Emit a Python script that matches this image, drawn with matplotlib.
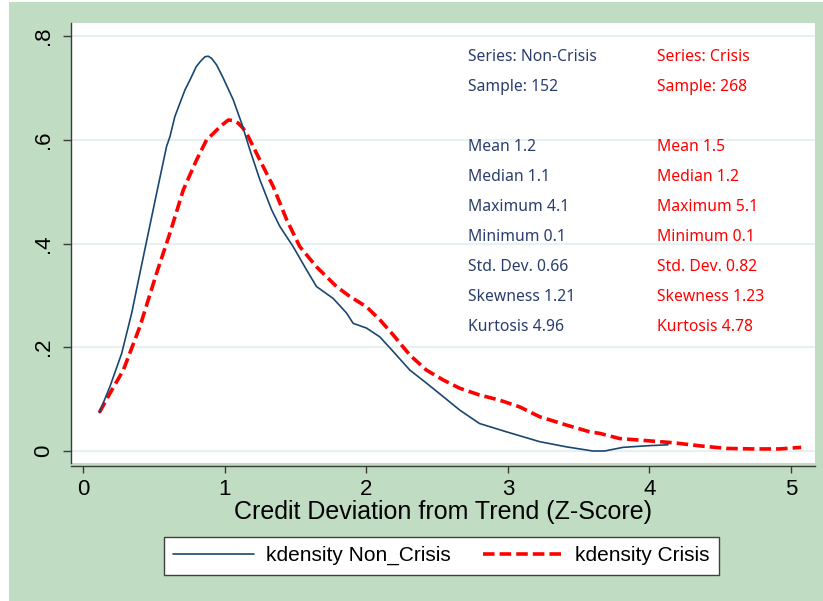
import matplotlib
matplotlib.use("Agg")
import matplotlib.pyplot as plt
from matplotlib.patches import Rectangle

# ---- data ----
noncrisis_x = [0.115, 0.19, 0.273, 0.344, 0.402, 0.461, 0.52, 0.59, 0.614, 0.649, 0.72, 0.755,
               0.80, 0.826, 0.861, 0.884, 0.908, 0.944, 0.99, 1.061, 1.12, 1.178, 1.249, 1.332,
               1.39, 1.484, 1.579, 1.649, 1.767, 1.861, 1.908, 2.002, 2.096, 2.19, 2.308, 2.425,
               2.543, 2.66, 2.80, 2.99, 3.225, 3.414, 3.507, 3.60, 3.684, 3.813, 3.978, 4.131]
noncrisis_y = [0.074, 0.124, 0.188, 0.266, 0.343, 0.420, 0.497, 0.587, 0.606, 0.645, 0.696, 0.715,
               0.741, 0.750, 0.760, 0.761, 0.757, 0.744, 0.719, 0.677, 0.632, 0.581, 0.523, 0.465,
               0.433, 0.394, 0.349, 0.317, 0.294, 0.266, 0.246, 0.237, 0.220, 0.192, 0.156, 0.131,
               0.105, 0.079, 0.053, 0.037, 0.018, 0.008, 0.004, 0.000, 0.000, 0.007, 0.010, 0.012]

crisis_x = [0.115, 0.19, 0.285, 0.402, 0.52, 0.614, 0.708, 0.802, 0.873, 0.92, 0.967, 1.026,
            1.061, 1.096, 1.131, 1.167, 1.249, 1.343, 1.438, 1.531, 1.649, 1.79, 1.884, 2.002,
            2.096, 2.19, 2.308, 2.425, 2.543, 2.66, 2.80, 2.943, 3.084, 3.225, 3.414, 3.578,
            3.649, 3.79, 3.978, 4.166, 4.354, 4.543, 4.731, 4.919, 5.072]
crisis_y = [0.074, 0.111, 0.156, 0.240, 0.343, 0.420, 0.503, 0.561, 0.600, 0.612, 0.625, 0.638,
            0.637, 0.632, 0.622, 0.606, 0.561, 0.510, 0.446, 0.394, 0.355, 0.317, 0.298, 0.278,
            0.253, 0.224, 0.185, 0.156, 0.137, 0.121, 0.108, 0.098, 0.085, 0.066, 0.050, 0.037,
            0.034, 0.024, 0.020, 0.016, 0.010, 0.005, 0.004, 0.004, 0.007]

x_ticks = [0, 1, 2, 3, 4, 5]
x_tick_labels = ["0", "1", "2", "3", "4", "5"]
y_ticks = [0, 0.2, 0.4, 0.6, 0.8]
y_tick_labels = ["0", ".2", ".4", ".6", ".8"]

stats_noncrisis = ["Series: Non-Crisis", "Sample: 152", "Mean 1.2", "Median 1.1", "Maximum 4.1",
                   "Minimum 0.1", "Std. Dev. 0.66", "Skewness 1.21", "Kurtosis 4.96"]
stats_crisis = ["Series: Crisis", "Sample: 268", "Mean 1.5", "Median 1.2", "Maximum 5.1",
                "Minimum 0.1", "Std. Dev. 0.82", "Skewness 1.23", "Kurtosis 4.78"]

x_label = "Credit Deviation from Trend (Z-Score)"
legend_labels = ["kdensity Non_Crisis", "kdensity Crisis"]

# ---- style ----
W, H = 823, 601
GREEN = "#c0ddc3"
NAVY = "#1a476f"
TXT_NAVY = "#2b3d6d"
RED = "#ff0000"
SANS = ["Liberation Sans", "DejaVu Sans"]

fig = plt.figure(figsize=(W / 100, H / 100), dpi=100)
fig.patch.set_facecolor("white")
fig.add_artist(Rectangle((9 / W, 0), 1 - 9 / W, (H - 2) / H, transform=fig.transFigure,
                         facecolor=GREEN, edgecolor="none", zorder=-10))

left, right, top, bottom = 71, 815, 23, 463
ax = fig.add_axes([left / W, 1 - bottom / H, (right - left) / W, (bottom - top) / H])
ax.set_facecolor("white")

# scales: x tick 0 at 83 px, 5 at 791 px ; y 0 at 451 px, .8 at 36 px
xpx0, xppu = 83.0, (791 - 83) / 5.0
ypx0, yppu = 451.0, (451 - 36) / 0.8
ax.set_xlim((left - xpx0) / xppu, (right - xpx0) / xppu)
ax.set_ylim((ypx0 - bottom) / yppu, (ypx0 - top) / yppu)

for yv in y_ticks:
    ax.axhline(yv, color="#e8f0f2", lw=1.6, zorder=0)

ax.plot(noncrisis_x, noncrisis_y, color=NAVY, lw=1.2, solid_capstyle="round",
        solid_joinstyle="round", label=legend_labels[0], zorder=3)
ax.plot(crisis_x, crisis_y, color=RED, lw=2.6, dashes=(3.2, 1.4), dash_capstyle="butt",
        dash_joinstyle="round", label=legend_labels[1], zorder=2)

ax.set_xticks(x_ticks)
ax.set_xticklabels(x_tick_labels)
ax.set_yticks(y_ticks)
ax.set_yticklabels(y_tick_labels)

for s in ["top", "right"]:
    ax.spines[s].set_visible(False)
ax.spines["left"].set_color("#3a3a3a")
ax.spines["left"].set_linewidth(1.0)
ax.spines["bottom"].set_color("#3a3a3a")
ax.spines["bottom"].set_linewidth(1.0)
ax.spines["bottom"].set_position(("outward", 2.5))

ax.tick_params(axis="x", direction="out", length=5, width=1.0, color="#3a3a3a",
               labelsize=16, pad=4)
ax.tick_params(axis="y", direction="out", length=6, width=1.0, color="#3a3a3a",
               labelsize=16, pad=6, labelrotation=90)
for lab in ax.get_xticklabels() + ax.get_yticklabels():
    lab.set_family(SANS)
for lab in ax.get_yticklabels():
    lab.set_va("center")

ax.set_xlabel(x_label, fontsize=18, family=SANS, labelpad=0)

# statistics text blocks
rows_y = [56.7, 87.3, 147.3, 176.7, 207.3, 237.3, 267.3, 296.7, 326.7]
for i, yp in enumerate(rows_y):
    fig.text(468 / W, 1 - yp / H, stats_noncrisis[i], color=TXT_NAVY, fontsize=11.3,
             family=["Noto Sans", "DejaVu Sans"], ha="left", va="center")
    fig.text(657 / W, 1 - yp / H, stats_crisis[i], color=RED, fontsize=11.3,
             family=["Noto Sans", "DejaVu Sans"], ha="left", va="center")

leg = ax.legend(loc="center", bbox_to_anchor=(441.5 / W, 1 - 555.5 / H),
                bbox_transform=fig.transFigure, ncol=2, frameon=True, fancybox=False,
                framealpha=1, edgecolor="#404040", prop={"family": SANS, "size": 15},
                handlelength=3.9, handletextpad=0.55, columnspacing=1.55, borderpad=0.45)
leg.get_frame().set_linewidth(1.0)

fig.savefig("out.png", dpi=100, facecolor=fig.get_facecolor())
